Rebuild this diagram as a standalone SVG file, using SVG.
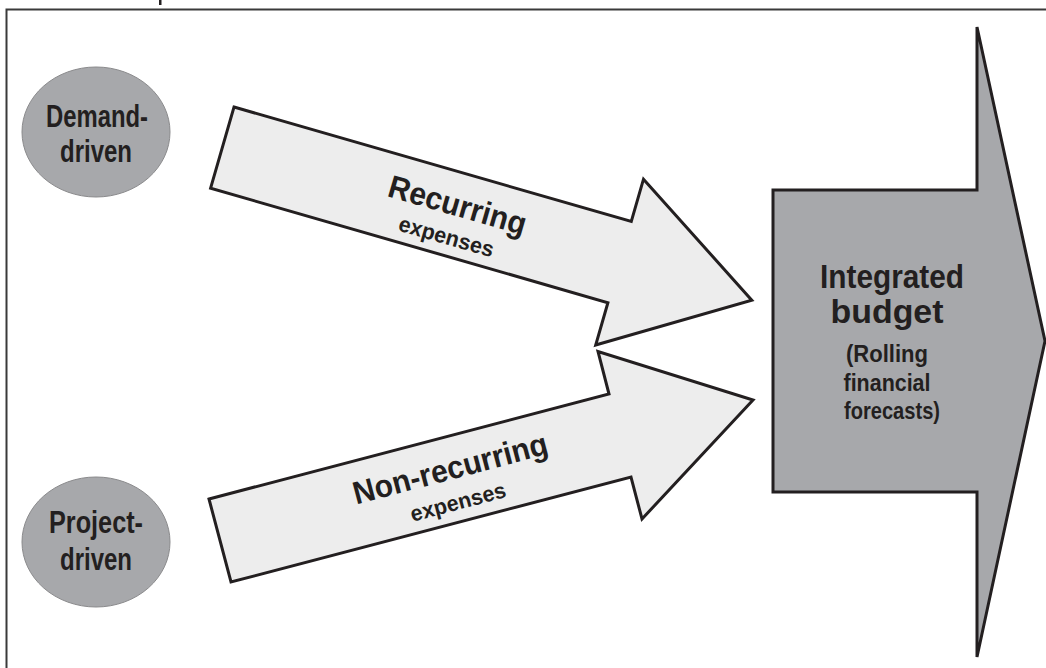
<svg xmlns="http://www.w3.org/2000/svg" width="1046" height="668" viewBox="0 0 1046 668">
  <style>
    .frame { fill: none; stroke: #3a3a3a; stroke-width: 2; }
    .source { fill: #a7a8ab; stroke: #8a8a8c; stroke-width: 1; }
    .flow { fill: #ededed; stroke: #231f20; stroke-width: 3; stroke-linejoin: miter; }
    .budget { fill: #a7a8ab; stroke: #231f20; stroke-width: 3; }
    text { font-family: "Liberation Sans", Arial, sans-serif; font-weight: bold; fill: #231f20; text-anchor: middle; }
    .lbl-src { font-size: 32px; }
    .lbl-main { font-size: 32px; }
    .lbl-sub { font-size: 22px; }
    .lbl-big { font-size: 34px; }
    .lbl-note { font-size: 24px; }
  </style>

  <!-- page frame (open to the right and bottom) -->
  <path class="frame" d="M1046,9.5 H6.5 V668"/>
  <rect x="159" y="0" width="2.5" height="5" fill="#231f20"/>

  <!-- connectors: the two expense-flow arrows -->
  <g id="connectors">
    <g id="flow-recurring">
      <polygon class="flow" points="234,107 631.3,221.5 643.5,179.2 751.8,300.2 595.7,345 607.9,302.7 210.6,188.2"/>
      <g transform="translate(222.3,147.6) rotate(16.08)">
        <text class="lbl-main" x="242" y="1" textLength="142" lengthAdjust="spacingAndGlyphs">Recurring</text>
        <text class="lbl-sub" x="240" y="31" textLength="98" lengthAdjust="spacingAndGlyphs">expenses</text>
      </g>
    </g>
    <g id="flow-nonrecurring">
      <polygon class="flow" points="209,499 609,394 598,351.5 753,400 642,519 631,477 231,582"/>
      <g transform="translate(220,540.6) rotate(-14.8)">
        <text class="lbl-main" x="241" y="0" textLength="200" lengthAdjust="spacingAndGlyphs">Non-recurring</text>
        <text class="lbl-sub" x="240" y="31" textLength="98" lengthAdjust="spacingAndGlyphs">expenses</text>
      </g>
    </g>
  </g>

  <!-- source nodes -->
  <g id="node-demand">
    <ellipse class="source" cx="96" cy="132" rx="74" ry="65"/>
    <text class="lbl-src" x="97" y="127" textLength="102" lengthAdjust="spacingAndGlyphs">Demand-</text>
    <text class="lbl-src" x="96" y="162" textLength="72" lengthAdjust="spacingAndGlyphs">driven</text>
  </g>
  <g id="node-project">
    <ellipse class="source" cx="96" cy="542" rx="74" ry="65"/>
    <text class="lbl-src" x="96" y="533" textLength="94" lengthAdjust="spacingAndGlyphs">Project-</text>
    <text class="lbl-src" x="96" y="570" textLength="72" lengthAdjust="spacingAndGlyphs">driven</text>
  </g>

  <!-- target node: integrated budget -->
  <g id="node-budget">
    <polygon class="budget" points="773,190 977,190 977,27 1045,341 977,657 977,492 773,492"/>
    <text class="lbl-big" x="892" y="288" textLength="144" lengthAdjust="spacingAndGlyphs">Integrated</text>
    <text class="lbl-big" x="887" y="323" textLength="113" lengthAdjust="spacingAndGlyphs">budget</text>
    <text class="lbl-note" x="887" y="362" textLength="82" lengthAdjust="spacingAndGlyphs">(Rolling</text>
    <text class="lbl-note" x="887" y="391" textLength="87" lengthAdjust="spacingAndGlyphs">financial</text>
    <text class="lbl-note" x="892" y="419" textLength="96" lengthAdjust="spacingAndGlyphs">forecasts)</text>
  </g>
</svg>
